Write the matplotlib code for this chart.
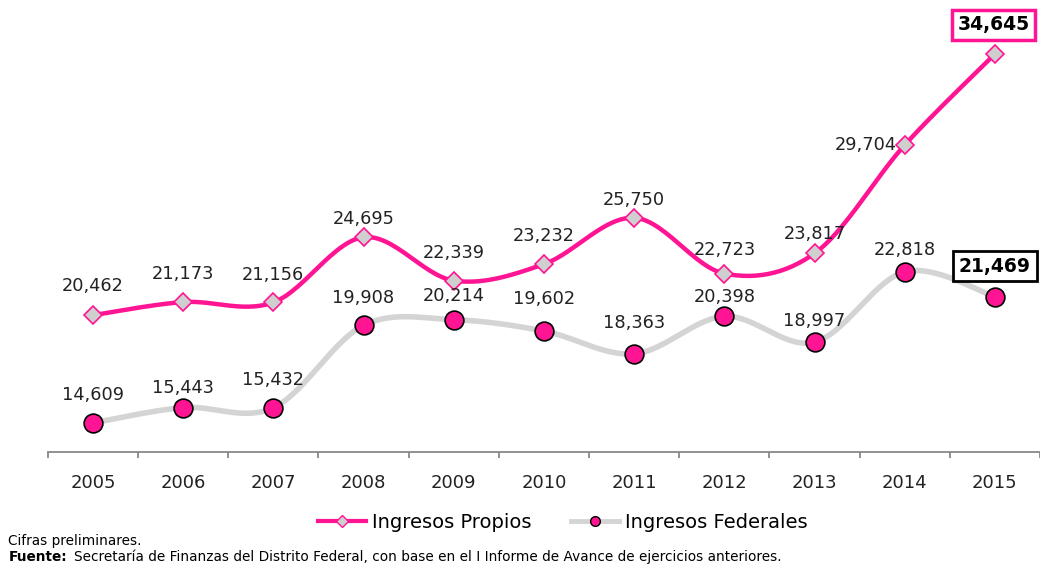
import numpy as np
import matplotlib
matplotlib.use("Agg")
import matplotlib.pyplot as plt
from matplotlib.lines import Line2D

anios = ['2005', '2006', '2007', '2008', '2009', '2010', '2011', '2012', '2013', '2014', '2015']
ingresos_propios = [20462, 21173, 21156, 24695, 22339, 23232, 25750, 22723, 23817, 29704, 34645]
ingresos_federales = [14609, 15443, 15432, 19908, 20214, 19602, 18363, 20398, 18997, 22818, 21469]

ROSA = '#FF1493'
GRIS = '#D4D4D4'

# desplazamiento de las etiquetas (puntos)
off_propios = [(0, 21), (0, 20), (0, 20), (0, 13), (0, 20), (0, 20), (0, 13), (0, 17), (0, 14), (-28, 0), (-1, 21)]
off_federales = [(0, 20), (0, 14), (0, 20), (0, 20), (0, 17), (0, 23), (0, 22), (0, 14), (0, 15), (0, 16), (0, 22)]


def suavizar(x, y, n=30):
    # Catmull-Rom, parecido a la linea suavizada de Excel
    x = np.asarray(x, float)
    y = np.asarray(y, float)
    px = np.concatenate([[x[0]], x, [x[-1]]])
    py = np.concatenate([[y[0]], y, [y[-1]]])
    xs, ys = [], []
    for i in range(1, len(px) - 2):
        t = np.linspace(0, 1, n)
        c1x = px[i] + (px[i + 1] - px[i - 1]) / 6
        c1y = py[i] + (py[i + 1] - py[i - 1]) / 6
        c2x = px[i + 1] - (px[i + 2] - px[i]) / 6
        c2y = py[i + 1] - (py[i + 2] - py[i]) / 6
        bx = (1 - t) ** 3 * px[i] + 3 * (1 - t) ** 2 * t * c1x + 3 * (1 - t) * t ** 2 * c2x + t ** 3 * px[i + 1]
        by = (1 - t) ** 3 * py[i] + 3 * (1 - t) ** 2 * t * c1y + 3 * (1 - t) * t ** 2 * c2y + t ** 3 * py[i + 1]
        xs.extend(bx)
        ys.extend(by)
    return np.array(xs), np.array(ys)


plt.rcParams['font.family'] = ['DejaVu Sans']
fig = plt.figure(figsize=(10.4, 5.65), dpi=100)
ax = fig.add_axes([0.046, 0.2, 0.954, 0.8])

x = np.arange(len(anios))

sx, sy = suavizar(x, ingresos_propios)
ax.plot(sx, sy, color=ROSA, lw=3.2, zorder=3, solid_capstyle='round')
ax.plot(x, ingresos_propios, ls='none', marker='D', ms=9, mfc='#CFCFCF', mec=ROSA, mew=1.2, zorder=4)

sx, sy = suavizar(x, ingresos_federales)
ax.plot(sx, sy, color=GRIS, lw=4, zorder=2, solid_capstyle='round')
ax.plot(x, ingresos_federales, ls='none', marker='o', ms=13.5, mfc=ROSA, mec='black', mew=1.2, zorder=4)

ultimo = len(anios) - 1
for serie, offs, borde, lwb in [(ingresos_propios, off_propios, ROSA, 2.5),
                                (ingresos_federales, off_federales, 'black', 2)]:
    for i, v in enumerate(serie):
        if i == ultimo:
            ax.annotate(f'{v:,}', (i, v), xytext=offs[i], textcoords='offset points', ha='center', va='center',
                        fontsize=13.5, fontweight='semibold',
                        bbox=dict(boxstyle='square,pad=0.3', fc='white', ec=borde, lw=lwb), zorder=6)
        else:
            ax.annotate(f'{v:,}', (i, v), xytext=offs[i], textcoords='offset points',
                        ha='center', va='center', fontsize=12.8, color='#222222', zorder=5)

ax.set_xlim(-0.5, len(anios) - 1 + 0.46)
ax.set_ylim(13030, 37580)
ax.set_xticks(x)
ax.set_xticklabels(anios, fontsize=13, color='#222222')
ax.set_xticks(np.arange(-0.5, len(anios), 1), minor=True)
ax.tick_params(axis='x', which='major', length=0, pad=16)
ax.tick_params(axis='x', which='minor', length=4, color='#888888', direction='out', width=1.3)
ax.set_yticks([])
for s in ['top', 'right', 'left']:
    ax.spines[s].set_visible(False)
ax.spines['bottom'].set_color('#888888')
ax.spines['bottom'].set_linewidth(1.3)
ax.patch.set_alpha(0)

h1 = Line2D([], [], color=ROSA, lw=3, marker='D', ms=6, mfc='#CFCFCF', mec=ROSA)
h2 = Line2D([], [], color=GRIS, lw=3.5, marker='o', ms=7, mfc=ROSA, mec='black')
fig.legend([h1, h2], ['Ingresos Propios', 'Ingresos Federales'], loc='center', bbox_to_anchor=(0.541, 0.076),
           ncol=2, frameon=False, fontsize=14, handlelength=2.5, columnspacing=2.0, handletextpad=0.3)

fig.text(0.008, 0.043, 'Cifras preliminares.', fontsize=9.8, va='center')
fig.text(0.008, 0.015, 'Fuente:', fontsize=9.8, fontweight='bold', va='center')
fig.text(0.071, 0.015, 'Secretaría de Finanzas del Distrito Federal, con base en el I Informe de Avance de ejercicios anteriores.',
         fontsize=9.8, va='center')

fig.savefig('out.png', dpi=100)
